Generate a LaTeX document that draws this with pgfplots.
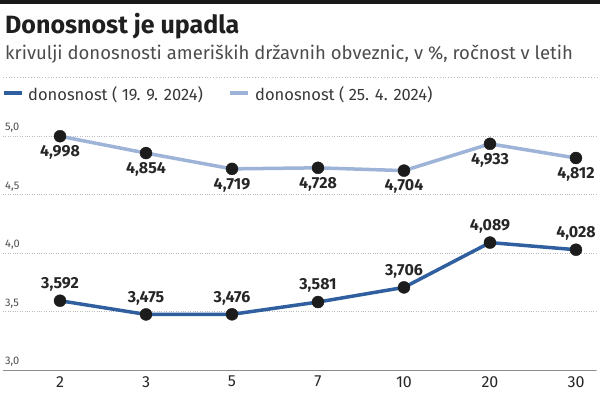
\documentclass[border=0pt]{standalone}
\usepackage{fontspec}
\setmainfont{Fira Sans}
\usepackage{pgfplots}
\pgfplotsset{compat=1.18}
\definecolor{darkb}{HTML}{2F5F9E}
\definecolor{lightb}{HTML}{9DB3D7}
\definecolor{gridc}{HTML}{BBBBBB}
\definecolor{markc}{HTML}{1C1C1C}
\pgfplotstableread{
x lab y
0 3,592 3.592
1 3,475 3.475
2 3,476 3.476
3 3,581 3.581
4 3,706 3.706
5 4,089 4.089
6 4,028 4.028
}\dark
\pgfplotstableread{
x lab y
0 4,998 4.998
1 4,854 4.854
2 4,719 4.719
3 4,728 4.728
4 4,704 4.704
5 4,933 4.933
6 4,812 4.812
}\light
\begin{document}
\begin{tikzpicture}[x=1pt,y=1pt]
\path[use as bounding box] (0,0) rectangle (600,392);
\fill[black!90] (0,388) rectangle (600,392);
\node[anchor=base west, inner sep=0, font=\fontsize{25}{27}\selectfont\bfseries, text=black!88] at (5,359) {Donosnost je upadla};
\node[anchor=base west, inner sep=0, font=\fontsize{18.5}{20}\selectfont, text=black!70] at (5,333) {krivulji donosnosti ameriških državnih obveznic, v \%, ročnost v letih};
\draw[gridc, dotted, line width=0.8pt] (3,315) -- (597,315);
\draw[darkb, line width=3.5pt] (4,299) -- (22,299);
\node[anchor=base west, inner sep=0, font=\fontsize{16.5}{18}\selectfont, text=black!78] at (28,292) {donosnost ( 19. 9. 2024)};
\draw[lightb, line width=3.5pt] (230,299) -- (248,299);
\node[anchor=base west, inner sep=0, font=\fontsize{16.5}{18}\selectfont, text=black!78] at (255,292) {donosnost ( 25. 4. 2024)};
\begin{axis}[
  at={(3pt,22pt)}, anchor=south west,
  scale only axis, width=593pt, height=234pt,
  xmin=-0.663, xmax=6.233, ymin=3, ymax=5,
  axis x line*=bottom, axis y line*=left,
  x axis line style={draw=black!45, line width=0.8pt},
  y axis line style={draw=none},
  major tick length=0pt,
  xtick={0,...,6}, xticklabels={2,3,5,7,10,20,30},
  ytick={3,3.5,4,4.5,5}, yticklabels={{3,0},{3,5},{4,0},{4,5},{5,0}},
  ymajorgrids, grid style={gridc, dotted, line width=0.8pt},
  xticklabel style={font=\fontsize{16}{17}\selectfont, text=black!85, inner sep=0pt, yshift=-6pt},
  yticklabel style={font=\fontsize{11}{12}\selectfont, text=black!70, inner sep=0pt, anchor=south west, xshift=2pt, yshift=3pt},
  clip=false,
  nodes near coords, point meta=explicit symbolic,
]
\addplot[lightb, line width=3.5pt, mark=*, mark size=6pt, mark options={fill=markc, draw=markc, line width=0.4pt},
  every node near coord/.append style={anchor=north, inner sep=0pt, yshift=-9pt, font=\fontsize{16}{17}\selectfont\bfseries, text=black!85}]
  table[x=x, y=y, meta=lab] {\light};
\addplot[darkb, line width=3.5pt, mark=*, mark size=6pt, mark options={fill=markc, draw=markc, line width=0.4pt},
  every node near coord/.append style={anchor=south, inner sep=0pt, yshift=9pt, font=\fontsize{16}{17}\selectfont\bfseries, text=black!85}]
  table[x=x, y=y, meta=lab] {\dark};
\end{axis}
\end{tikzpicture}
\end{document}
